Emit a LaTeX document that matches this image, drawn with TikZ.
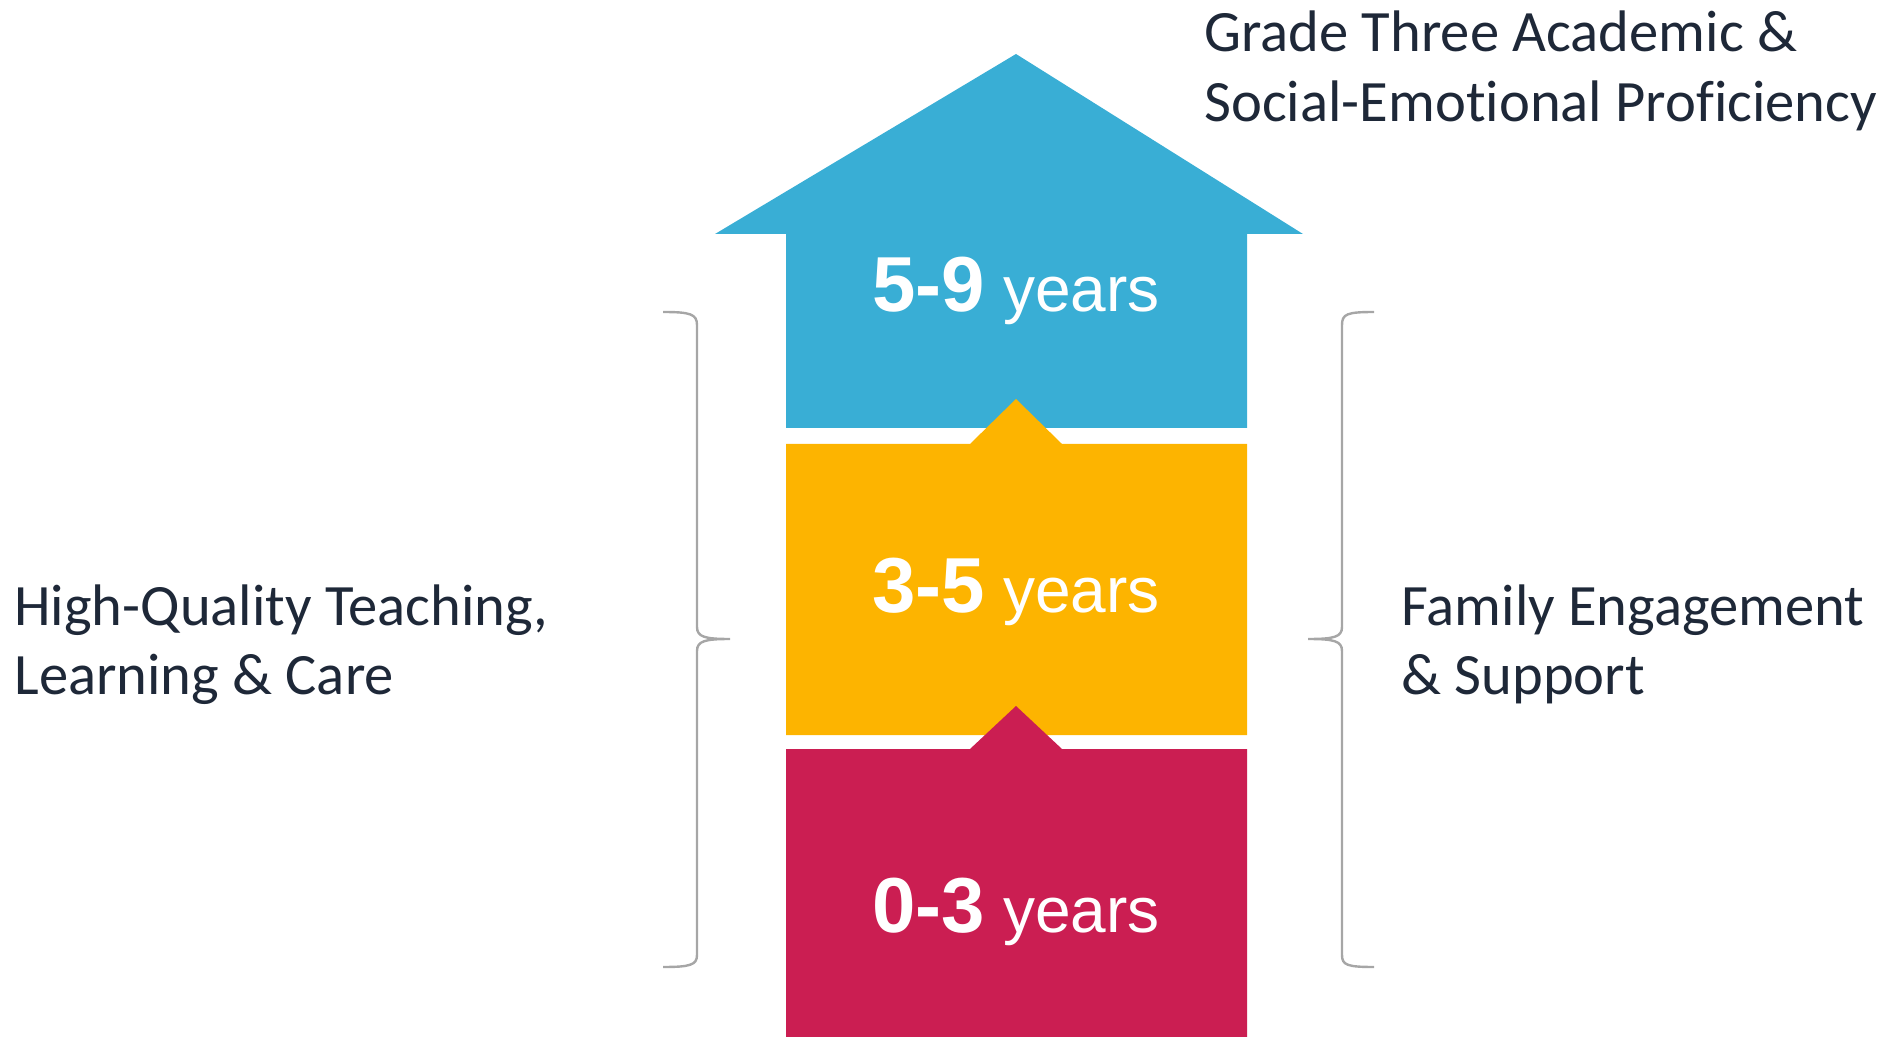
\documentclass[tikz,border=0pt]{standalone}
\usepackage{fontspec}
\setmainfont{Carlito}[Ligatures=NoCommon]
\newfontfamily\agefont{Liberation Sans}
\usetikzlibrary{positioning}
\definecolor{ageblue}{RGB}{57,174,213}
\definecolor{ageyellow}{RGB}{253,180,0}
\definecolor{agered}{RGB}{203,30,82}
\definecolor{labelnavy}{RGB}{30,40,56}
\definecolor{bracegray}{RGB}{166,166,166}
\newcommand{\agerange}[1]{{\bfseries\fontsize{39}{39}\selectfont #1}{\fontsize{32}{32}\selectfont\ years}}

\begin{document}
\begin{tikzpicture}[x=0.5pt, y=-0.5pt]
    \tikzstyle{agetext} = [text=white, anchor=base, inner sep=0pt, font=\agefont]
    \tikzstyle{sidetext} = [text=labelnavy, align=left, anchor=base west, inner sep=0pt, font=\fontsize{29.3}{34.5}\selectfont]
    \tikzstyle{goaltext} = [text=labelnavy, align=left, anchor=base west, inner sep=0pt, font=\fontsize{29.3}{35}\selectfont]
    \tikzstyle{brace} = [draw=bracegray, line width=1.2pt]

    \useasboundingbox (0,0) rectangle (1885,1037);
    \clip (0,0) rectangle (1885,1037);

    \fill[ageblue] (1016,54) -- (1303,234) -- (1247,234) -- (1247,428) -- (786,428) -- (786,234) -- (715,234) -- cycle;
    \fill[ageyellow] (786,444) -- (970,444) -- (1016,399) -- (1062,444) -- (1247,444) -- (1247,735) -- (786,735) -- cycle;
    \fill[agered] (786,749) -- (970,749) -- (1016,706) -- (1062,749) -- (1247,749) -- (1247,1060) -- (786,1060) -- cycle;

    \node[agetext] (school) at (1016,312) {\agerange{5-9}};
    \node[agetext] (preschool) at (1016,612) {\agerange{3-5}};
    \node[agetext] (infant) at (1016,932) {\agerange{0-3}};

    \node[goaltext] (goal) at (1204,122) {Grade Three Academic \&\\Social-Emotional Proficiency};
    \node[sidetext] (teaching) at (14,694) {High-Quality Teaching,\\Learning \& Care};
    \node[sidetext] (family) at (1401,694) {Family Engagement\\\& Support};

    \draw[brace] (663,312) .. controls (690,312) and (697,314) .. (697,325) -- (697,627)
        .. controls (697,637) and (705,639) .. (730,639)
        .. controls (705,639) and (697,641) .. (697,651) -- (697,955)
        .. controls (697,965) and (690,967) .. (663,967);
    \draw[brace] (1374,312) .. controls (1347,312) and (1342,314) .. (1342,325) -- (1342,627)
        .. controls (1342,637) and (1334,639) .. (1308,639)
        .. controls (1334,639) and (1342,641) .. (1342,651) -- (1342,955)
        .. controls (1342,965) and (1347,967) .. (1374,967);
\end{tikzpicture}
\end{document}
